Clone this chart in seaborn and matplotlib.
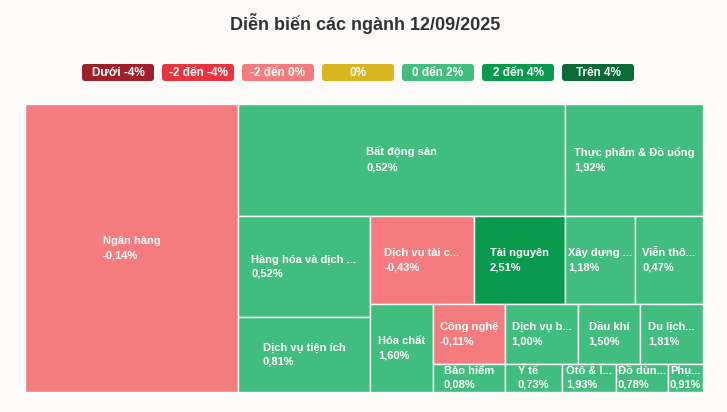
import matplotlib.pyplot as plt
import seaborn as sns
from matplotlib.patches import Rectangle, FancyBboxPatch

sns.set_style("white")
plt.rcParams['font.family'] = ['Liberation Sans', 'DejaVu Sans']

# sector data: label shown, size weight, % change
names = ["Ngân hàng", "Bất động sản", "Thực phẩm & Đồ uống", "Hàng hóa và dịch ...",
         "Dịch vụ tiện ích", "Dịch vụ tài c...", "Tài nguyên", "Xây dựng ...", "Viễn thô...",
         "Hóa chất", "Công nghệ", "Bảo hiểm", "Dịch vụ b...", "Dầu khí", "Du lịch...",
         "Y tế", "Ôtô & l...", "Đồ dùn...", "Phụ..."]
sizes = [60900, 36300, 15300, 13300, 9770, 9150, 8000, 6160, 5980,
         5480, 4250, 2020, 4310, 3660, 3720, 1600, 1510, 1460, 980]
changes = [-0.14, 0.52, 1.92, 0.52, 0.81, -0.43, 2.51, 1.18, 0.47,
           1.60, -0.11, 0.08, 1.00, 1.50, 1.81, 0.73, 1.93, 0.78, 0.91]

legend_labels = ["Dưới -4%", "-2 đến -4%", "-2 đến 0%", "0%", "0 đến 2%", "2 đến 4%", "Trên 4%"]
legend_colors = ["#A0202A", "#E8343F", "#F47C7E", "#D9B51F", "#41BE7E", "#0A9A4E", "#0B6B37"]


def color_for(v):
    if v < -4: return legend_colors[0]
    if v < -2: return legend_colors[1]
    if v < 0: return legend_colors[2]
    if v == 0: return legend_colors[3]
    if v <= 2: return legend_colors[4]
    if v <= 4: return legend_colors[5]
    return legend_colors[6]


# nesting of the treemap: ('h', ...) splits side by side, ('v', ...) stacks
layout = ('h', 0, ('v', ('h', 1, 2),
                   ('h', ('v', 3, 4),
                    ('v', ('h', 5, 6, 7, 8),
                     ('h', 9, ('v', 10, 11),
                      ('v', ('h', 12, 13, 14), ('h', 15, 16, 17, 18)))))))


def total(node):
    if isinstance(node, int):
        return sizes[node]
    return sum(total(c) for c in node[1:])


def place(node, x, y, w, h, out):
    if isinstance(node, int):
        out.append((node, x, y, w, h))
        return
    t = total(node)
    for c in node[1:]:
        f = total(c) / t
        if node[0] == 'h':
            place(c, x, y, w * f, h, out); x += w * f
        else:
            place(c, x, y, w, h * f, out); y += h * f


fig = plt.figure(figsize=(7.27, 4.12), dpi=100, facecolor='#FCFBF9')
ax = fig.add_axes([0, 0, 1, 1])
ax.set_facecolor('#FCFBF9')
ax.set_xlim(0, 727); ax.set_ylim(412, 0); ax.axis('off')

ax.text(365, 23, "Diễn biến các ngành 12/09/2025", ha='center', va='center',
        fontsize=13, fontweight='bold', color='#333333')

lx = 82
for lab, col in zip(legend_labels, legend_colors):
    w = 72
    ax.add_patch(FancyBboxPatch((lx, 64), w, 17, boxstyle="round,pad=0,rounding_size=3",
                                fc=col, ec='none'))
    ax.text(lx + w / 2, 72.5, lab, ha='center', va='center', fontsize=8.5,
            fontweight='bold', color='white')
    lx += w + 8

rects = []
place(layout, 25, 104, 678, 288, rects)
for i, x, y, w, h in rects:
    ax.add_patch(Rectangle((x, y), w, h, fc=color_for(changes[i]), ec='white', lw=1))
    label = names[i] + "\n" + f"{changes[i]:.2f}%".replace('.', ',')
    ax.text(x + w / 2, y + h / 2, label, ha='center', va='center', multialignment='left',
            fontsize=8, fontweight='bold', color='white', linespacing=1.5, clip_on=True)

fig.savefig('out.png', dpi=100, facecolor=fig.get_facecolor())
